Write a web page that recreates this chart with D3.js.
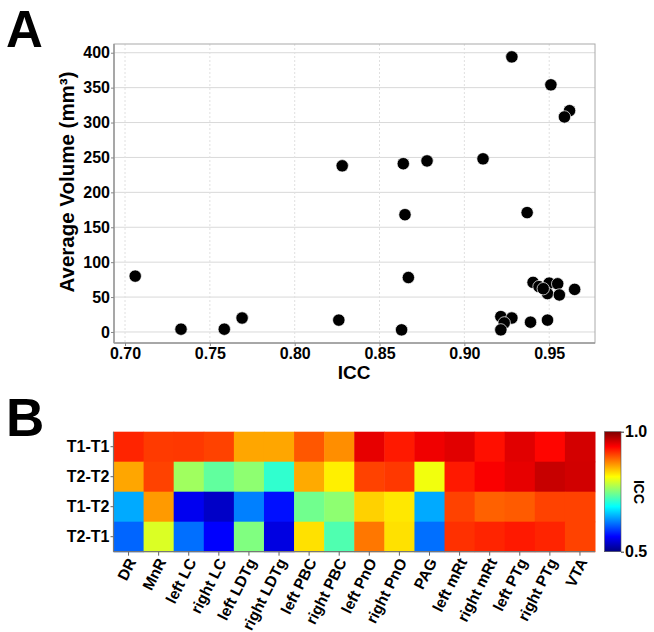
<!DOCTYPE html>
<html><head><meta charset="utf-8">
<script src="https://cdn.jsdelivr.net/npm/d3@7"></script>
<style>
body{margin:0;background:#fff;}
text{font-family:"Liberation Sans",Arial,sans-serif;font-weight:bold;fill:#000;}
</style></head>
<body><svg id="c" width="654" height="632"></svg>
<script>
// Panel A data
const icc = [0.706,0.733,0.7585,0.769,0.826,0.828,0.928,0.951,0.962,0.959,0.864,0.878,0.911,0.865,0.937,0.867,0.863,0.9405,0.944,0.950,0.955,0.949,0.956,0.965,0.9465,0.9215,0.928,0.9235,0.9215,0.939,0.949];
const volume = [80,4,4,20,17,238,394,354,317,308,241,245,248,168,171,78,3,71,65,70,69,55,53,61,62,22,20,13,3,14,17];
const xTicks = [0.70,0.75,0.80,0.85,0.90,0.95];
const yTicks = [0,50,100,150,200,250,300,350,400];

// Panel B data
const regions = ["DR","MnR","left LC","right LC","left LDTg","right LDTg","left PBC","right PBC","left PnO","right PnO","PAG","left mRt","right mRt","left PTg","right PTg","VTA"];
const comparisons = ["T1-T1","T2-T2","T1-T2","T2-T1"];
const t1t1 = [0.920,0.909,0.910,0.905,0.856,0.856,0.895,0.868,0.949,0.925,0.945,0.952,0.930,0.952,0.935,0.959];
const t2t2 = [0.856,0.905,0.766,0.735,0.757,0.711,0.854,0.820,0.905,0.910,0.806,0.925,0.940,0.949,0.965,0.960];
const t1t2 = [0.646,0.862,0.555,0.535,0.625,0.570,0.743,0.757,0.835,0.824,0.646,0.905,0.890,0.893,0.905,0.905];
const t2t1 = [0.612,0.795,0.617,0.562,0.750,0.548,0.827,0.726,0.879,0.827,0.617,0.914,0.920,0.925,0.920,0.905];
const iccRows = [t1t1,t2t2,t1t2,t2t1];
const cbTicks = [0.5,1.0];

const svg = d3.select("#c");

// ---------- Panel A ----------
const A = {l:114,r:595,t:44,b:343};
const x = d3.scaleLinear().domain([0.6935,0.977]).range([A.l,A.r]);
const y = d3.scaleLinear().domain([-15.8,412.5]).range([A.b,A.t]);

const gA = svg.append("g");
gA.selectAll(".hg").data(yTicks).join("line")
  .attr("x1",A.l).attr("x2",A.r).attr("y1",d=>y(d)).attr("y2",d=>y(d))
  .attr("stroke","#d9d9d9").attr("stroke-width",1);
gA.selectAll(".vg").data(xTicks).join("line")
  .attr("y1",A.t).attr("y2",A.b).attr("x1",d=>x(d)).attr("x2",d=>x(d))
  .attr("stroke","#e0e0e0").attr("stroke-width",1).attr("stroke-dasharray","2,2");
gA.append("rect").attr("x",A.l).attr("y",A.t).attr("width",A.r-A.l).attr("height",A.b-A.t)
  .attr("fill","none").attr("stroke","#aaa").attr("stroke-width",1);
gA.append("line").attr("x1",A.l).attr("x2",A.l).attr("y1",A.t).attr("y2",A.b).attr("stroke","#999").attr("stroke-width",1.5);
gA.append("line").attr("x1",A.l).attr("x2",A.r).attr("y1",A.b).attr("y2",A.b).attr("stroke","#999").attr("stroke-width",1.5);

const xAxis = gA.append("g").attr("transform",`translate(0,${A.b})`)
  .call(d3.axisBottom(x).tickValues(xTicks).tickFormat(d3.format(".2f")).tickSize(3).tickPadding(2));
const yAxis = gA.append("g").attr("transform",`translate(${A.l},0)`)
  .call(d3.axisLeft(y).tickValues(yTicks).tickSize(3).tickPadding(1));
[xAxis,yAxis].forEach(g=>{
  g.select(".domain").remove();
  g.selectAll(".tick line").attr("stroke","#888");
  g.selectAll(".tick text").style("font-size","16px").style("font-family","Liberation Sans, Arial, sans-serif").style("font-weight","bold").attr("fill","#000");
});

gA.selectAll("circle").data(icc.map((d,i)=>[d,volume[i]])).join("circle")
  .attr("cx",d=>x(d[0])).attr("cy",d=>y(d[1])).attr("r",6.2)
  .attr("fill","#000").attr("stroke","#fff").attr("stroke-width",0.7);

gA.append("text").attr("x",354).attr("y",379).attr("text-anchor","middle")
  .style("font-size","19px").text("ICC");
gA.append("text").attr("transform","translate(74,182) rotate(-90)").attr("text-anchor","middle")
  .style("font-size","20.5px").text("Average Volume (mm³)");
svg.append("text").attr("x",6).attr("y",46.5).style("font-size","51px").text("A");

// ---------- Panel B ----------
const B = {l:113.5,r:595,t:431.7,b:551.7};
const xb = d3.scaleBand().domain(regions).range([B.l,B.r]);
const yb = d3.scaleBand().domain(comparisons).range([B.t,B.b]);
const jet = d3.scaleLinear().domain([0.5,0.5625,0.6875,0.8125,0.9375,1.0])
  .range(["#00007f","#0000ff","#00ffff","#ffff00","#ff0000","#7f0000"]).clamp(true);

const cells = [];
comparisons.forEach((c,ri)=>regions.forEach((r,ci)=>cells.push({c,r,v:iccRows[ri][ci]})));
const gB = svg.append("g");
gB.selectAll("rect").data(cells).join("rect")
  .attr("x",d=>xb(d.r)).attr("y",d=>yb(d.c)).attr("width",xb.bandwidth()+0.5).attr("height",yb.bandwidth()+0.5)
  .attr("fill",d=>jet(d.v));
gB.append("line").attr("x1",B.l).attr("x2",B.r).attr("y1",B.b).attr("y2",B.b).attr("stroke","#777").attr("stroke-width",1.2);
gB.append("line").attr("x1",B.l).attr("x2",B.l).attr("y1",B.t).attr("y2",B.b).attr("stroke","#777").attr("stroke-width",1.2);

const yAxB = gB.append("g").attr("transform",`translate(${B.l},0)`).call(d3.axisLeft(yb).tickSize(3).tickPadding(1));
const xAxB = gB.append("g").attr("transform",`translate(0,${B.b})`).call(d3.axisBottom(xb).tickSize(4).tickPadding(2));
[yAxB,xAxB].forEach(g=>{
  g.select(".domain").remove();
  g.selectAll(".tick line").attr("stroke","#666");
  g.selectAll(".tick text").style("font-family","Liberation Sans, Arial, sans-serif").style("font-weight","bold").attr("fill","#000");
});
yAxB.selectAll(".tick text").style("font-size","16px");
xAxB.selectAll(".tick text").style("font-size","15.5px").attr("text-anchor","end").attr("dy","0").attr("y",0)
  .attr("transform","translate(8,10) rotate(-63)");

// colorbar
const cb = {x:604.5,w:16.5};
const cy = d3.scaleLinear().domain([0.5,1.0]).range([B.b,B.t]);
const grad = svg.append("defs").append("linearGradient").attr("id","jet")
  .attr("x1","0").attr("y1","1").attr("x2","0").attr("y2","0");
grad.selectAll("stop").data(jet.domain()).join("stop")
  .attr("offset",d=>(d-0.5)/0.5).attr("stop-color",d=>jet(d));
svg.append("rect").attr("x",cb.x).attr("y",B.t).attr("width",cb.w).attr("height",B.b-B.t)
  .attr("fill","url(#jet)").attr("stroke","#555").attr("stroke-width",0.6);
const cbAx = svg.append("g").attr("transform",`translate(${cb.x+cb.w},0)`)
  .call(d3.axisRight(cy).tickValues(cbTicks).tickFormat(d3.format(".1f")).tickSize(3).tickPadding(1));
cbAx.select(".domain").remove();
cbAx.selectAll(".tick line").attr("stroke","#333");
cbAx.selectAll(".tick text").style("font-size","16px").style("font-family","Liberation Sans, Arial, sans-serif").style("font-weight","bold").attr("fill","#000");
svg.append("text").attr("transform","translate(634,492) rotate(90)").attr("text-anchor","middle")
  .style("font-size","14px").text("ICC");
svg.append("text").attr("x",6).attr("y",436).style("font-size","53px").text("B");
</script></body></html>
